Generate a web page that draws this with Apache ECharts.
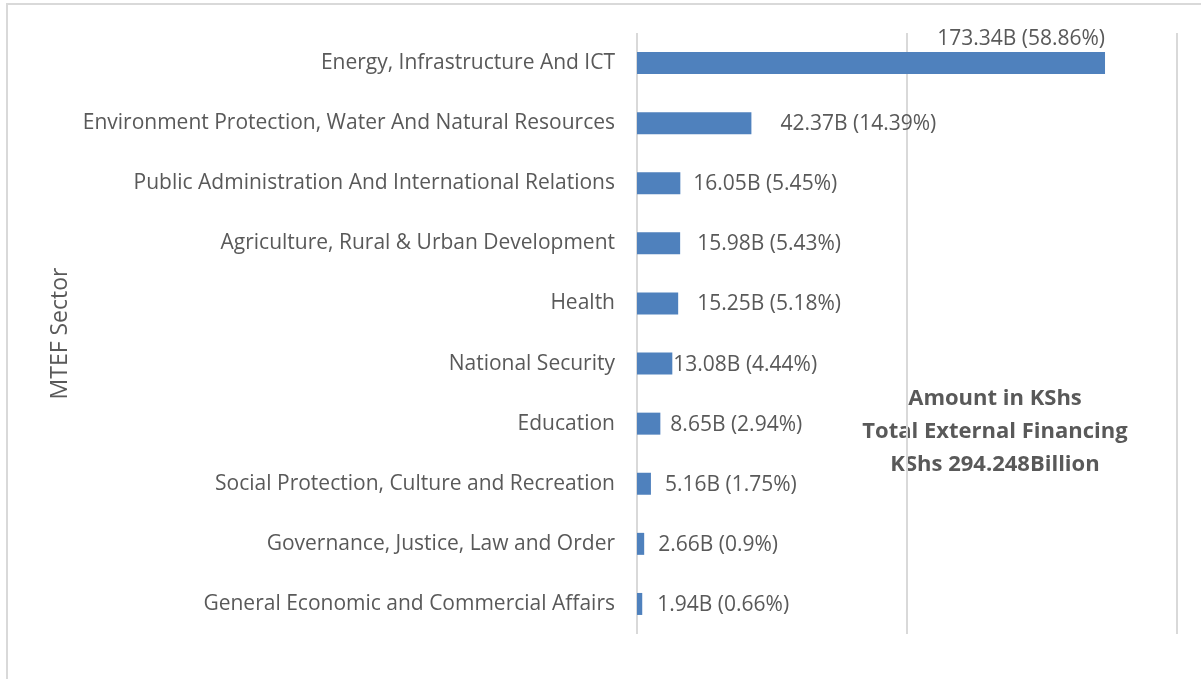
<!DOCTYPE html>
<html><head><meta charset="utf-8">
<script src="https://cdn.jsdelivr.net/npm/echarts@6/dist/echarts.min.js"></script>
<style>html,body{margin:0;padding:0;background:#fff}#c{width:1201px;height:679px}</style>
</head><body><div id="c"></div>
<script>
const categories = [
  "Energy, Infrastructure And ICT",
  "Environment Protection, Water And Natural Resources",
  "Public Administration And International Relations",
  "Agriculture, Rural & Urban Development",
  "Health",
  "National Security",
  "Education",
  "Social Protection, Culture and Recreation",
  "Governance, Justice, Law and Order",
  "General Economic and Commercial Affairs"
];
const amounts = [173.34, 42.37, 16.05, 15.98, 15.25, 13.08, 8.65, 5.16, 2.66, 1.94];
const shares = [58.86, 14.39, 5.45, 5.43, 5.18, 4.44, 2.94, 1.75, 0.9, 0.66];
const xTicks = [0, 100, 200];
const noteLines = ["Amount in KShs", "Total External Financing", "KShs 294.248Billion"];
const axisTitle = "MTEF Sector";

const FONT = "Open Sans";
const TXT = "#595959";
const labelGap = [0, 29, 13, 17, 19, 1, 10, 14, 14, 15];

const seriesData = amounts.map((v, i) => {
  const item = { value: v };
  if (i === 0) {
    item.label = { position: ['100%', -3], align: 'right', verticalAlign: 'bottom' };
  } else {
    item.label = { position: 'right', distance: labelGap[i], offset: [0, 1] };
  }
  return item;
});

const chart = echarts.init(document.getElementById('c'));
chart.setOption({
  animation: false,
  backgroundColor: '#fff',
  grid: { left: 637, right: 24, top: 33, bottom: 45, containLabel: false },
  xAxis: {
    type: 'value', min: xTicks[0], max: xTicks[xTicks.length - 1], interval: xTicks[1] - xTicks[0],
    axisLabel: { show: false }, axisLine: { show: false }, axisTick: { show: false },
    splitLine: { show: true, lineStyle: { color: '#d9d9d9', width: 2 } }
  },
  yAxis: {
    type: 'category', data: categories, inverse: true,
    axisLine: { show: false }, axisTick: { show: false },
    axisLabel: { color: TXT, fontFamily: FONT, fontSize: 21, margin: 22, padding: [3, 0, 0, 0] },
    name: axisTitle, nameLocation: 'middle', nameGap: 565, nameRotate: 90,
    nameTextStyle: { color: TXT, fontFamily: FONT, fontSize: 23 }
  },
  series: [{
    type: 'bar', data: seriesData, barWidth: 22,
    itemStyle: { color: '#4f81bd' },
    label: {
      show: true, color: TXT, fontFamily: FONT, fontSize: 21,
      formatter: p => p.value + 'B (' + shares[p.dataIndex] + '%)'
    }
  }],
  graphic: [
    { type: 'rect', silent: true, shape: { x: 7, y: 4, width: 1400, height: 900 },
      style: { fill: 'none', stroke: '#d9d9d9', lineWidth: 2 } },
    { type: 'text', x: 995, y: 382, silent: true,
      style: { text: noteLines.join('\n'), align: 'center', verticalAlign: 'top', fill: TXT,
        font: 'bold 22px "' + FONT + '"', lineHeight: 33 } }
  ]
});
</script></body></html>
